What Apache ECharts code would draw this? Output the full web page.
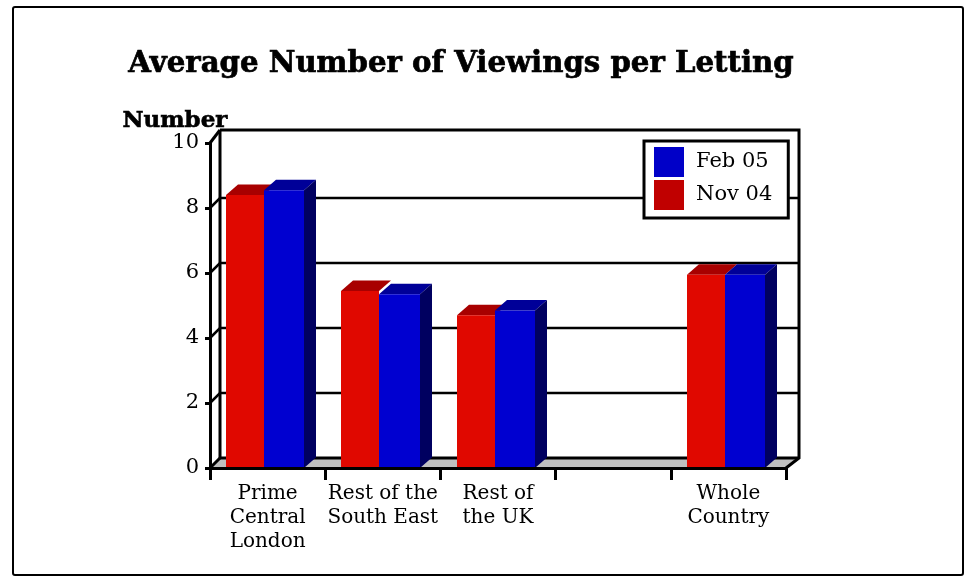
<!DOCTYPE html>
<html>
<head>
<meta charset="utf-8">
<style>html,body{margin:0;padding:0;background:#fff}#chart{width:965px;height:577px}</style>
<script src="https://cdn.jsdelivr.net/npm/echarts@6/dist/echarts.min.js"></script>
</head>
<body>
<div id="chart"></div>
<script>
// Average viewings per letting, by region
const categories = ['Prime\nCentral\nLondon', 'Rest of the\nSouth East', 'Rest of\nthe UK', '', 'Whole\nCountry'];
const feb05 = [8.55, 5.35, 4.85, null, 5.95];
const nov04 = [8.4, 5.45, 4.7, null, 5.95];
const yTicks = [0, 2, 4, 6, 8, 10];

const FONT = '"DejaVu Serif", serif';
const DEPTH = 10;          // pseudo-3D offset of the back wall
const BAR_DEPTH_X = 12;
const BAR_DEPTH_Y = 10.5;

const faces = {
  red: {front: '#e00800', top: '#a80000'},
  blue: {front: '#0000d0', top: '#000098', side: '#000060'}
};

// Back wall, floor and gridlines
function renderFrame(params, api) {
  const left = api.coord([0, 0]);
  const bandW = api.size([1, 0])[0];
  const x0 = left[0] - bandW / 2;
  const x1 = x0 + bandW * categories.length;
  const y0 = left[1];
  const y10 = api.coord([0, 10])[1];
  const ink = {stroke: '#000', lineWidth: 3, fill: null};
  const children = [
    {type: 'polygon', shape: {points: [[x0, y0], [x1, y0], [x1 + DEPTH + 3, y0 - DEPTH], [x0 + DEPTH, y0 - DEPTH]]},
      style: {fill: '#c0c0c0'}},
    {type: 'polyline', shape: {points: [[x0 + DEPTH, y10 - DEPTH - 3], [x1 + DEPTH + 3, y10 - DEPTH - 3], [x1 + DEPTH + 3, y0 - DEPTH], [x1, y0]]}, style: ink},
    {type: 'polyline', shape: {points: [[x0 + DEPTH, y10 - DEPTH - 3], [x0 + DEPTH, y0 - DEPTH], [x1 + DEPTH + 3, y0 - DEPTH]]}, style: ink},
    {type: 'line', shape: {x1: x0, y1: y0, x2: x0 + DEPTH, y2: y0 - DEPTH}, style: ink},
    {type: 'line', shape: {x1: x0, y1: y10, x2: x0 + DEPTH, y2: y10 - DEPTH - 3}, style: ink}
  ];
  yTicks.slice(1, -1).forEach(function (t) {
    const y = api.coord([0, t])[1];
    children.push({type: 'polyline', shape: {points: [[x0, y], [x0 + DEPTH, y - DEPTH], [x1 + DEPTH + 3, y - DEPTH]]},
      style: {stroke: '#000', lineWidth: 2.5, fill: null}});
  });
  return {type: 'group', children: children};
}

// One 3D bar: front, top and (for the rightmost) side faces
function renderBar(colors, fromFrac, toFrac, withSide) {
  return function (params, api) {
    const v = api.value(1);
    if (v == null || isNaN(v)) return null;
    const top = api.coord([api.value(0), v]);
    const base = api.coord([api.value(0), 0]);
    const bandW = api.size([1, 0])[0];
    const xa = Math.round(top[0] + bandW * fromFrac);
    const xb = Math.round(top[0] + bandW * toFrac);
    const yt = top[1], yb = base[1];
    const children = [
      {type: 'polygon', shape: {points: [[xa, yt], [xa + BAR_DEPTH_X, yt - BAR_DEPTH_Y], [xb + BAR_DEPTH_X, yt - BAR_DEPTH_Y], [xb, yt]]},
        style: {fill: colors.top}}
    ];
    if (withSide) {
      children.push({type: 'polygon', shape: {points: [[xb, yt], [xb + BAR_DEPTH_X, yt - BAR_DEPTH_Y], [xb + BAR_DEPTH_X, yb - BAR_DEPTH_Y], [xb, yb]]},
        style: {fill: colors.side}});
    }
    children.push({type: 'rect', shape: {x: xa, y: yt, width: xb - xa, height: yb - yt}, style: {fill: colors.front}});
    return {type: 'group', children: children};
  };
}

const chart = echarts.init(document.getElementById('chart'), null, {renderer: 'canvas'});
chart.setOption({
  animation: false,
  backgroundColor: '#fff',
  title: {
    text: 'Average Number of Viewings per Letting',
    left: 456, top: 45, textAlign: 'center',
    textStyle: {fontFamily: FONT, fontWeight: 'bold', fontSize: 29.2, color: '#000',
      textBorderColor: '#000', textBorderWidth: 0.7}
  },
  legend: {
    data: ['Feb 05', 'Nov 04'],
    orient: 'vertical', left: 644, top: 141,
    itemWidth: 30, itemHeight: 30, itemGap: 3,
    padding: [6, 16, 8, 10],
    backgroundColor: '#fff', borderColor: '#000', borderWidth: 3,
    icon: 'rect', selectedMode: false, z: 20,
    textStyle: {fontFamily: FONT, fontSize: 21, color: '#000', padding: [0, 0, 0, 7]}
  },
  grid: {left: 210, right: 179, top: 143, bottom: 109},
  xAxis: {
    type: 'category', data: categories,
    axisLine: {lineStyle: {color: '#000', width: 3}},
    axisTick: {show: true, length: 12, lineStyle: {color: '#000', width: 3}},
    axisLabel: {interval: 0, fontFamily: FONT, fontSize: 20, lineHeight: 24, color: '#000', margin: 14},
    splitLine: {show: false}, z: 10
  },
  yAxis: {
    type: 'value', min: 0, max: 10, interval: 2,
    name: 'Number', nameLocation: 'end', nameGap: 9,
    nameTextStyle: {fontFamily: FONT, fontWeight: 'bold', fontSize: 23, color: '#000', align: 'center', padding: [0, 70, 0, 0],
      textBorderColor: '#000', textBorderWidth: 0.6},
    axisLine: {show: true, lineStyle: {color: '#000', width: 3}},
    axisTick: {show: true, length: 5, lineStyle: {color: '#000', width: 3}},
    axisLabel: {fontFamily: FONT, fontSize: 21, color: '#000', margin: 11},
    splitLine: {show: false}, z: 10
  },
  graphic: [{
    type: 'rect', shape: {x: 13, y: 7, width: 950, height: 568, r: 2},
    style: {fill: null, stroke: '#000', lineWidth: 2}, z: 30, silent: true
  }],
  series: [
    {name: 'frame', type: 'custom', data: [[0, 0]], renderItem: renderFrame, z: 1, silent: true, clip: false},
    {name: 'Nov 04', type: 'custom', itemStyle: {color: '#c00000'},
      data: nov04.map(function (v, i) { return [i, v]; }),
      encode: {x: 0, y: 1}, renderItem: renderBar(faces.red, -0.36, -0.03, false), z: 3, clip: false},
    {name: 'Feb 05', type: 'custom', itemStyle: {color: '#0000c8'},
      data: feb05.map(function (v, i) { return [i, v]; }),
      encode: {x: 0, y: 1}, renderItem: renderBar(faces.blue, -0.03, 0.32, true), z: 4, clip: false}
  ]
});
</script>
</body>
</html>
